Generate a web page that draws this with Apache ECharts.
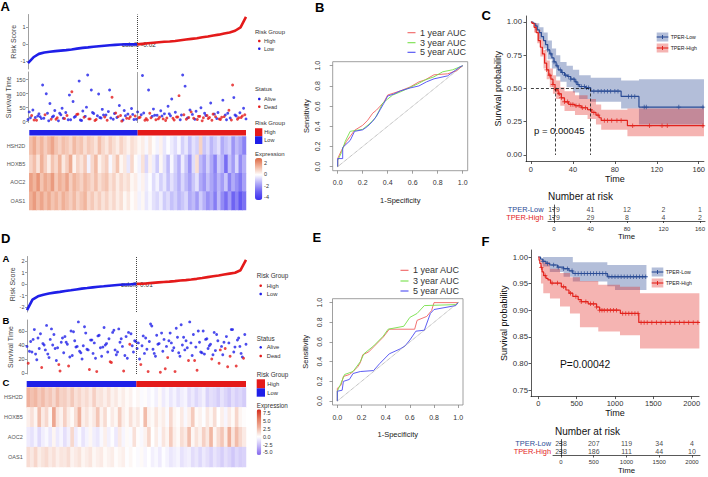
<!DOCTYPE html>
<html>
<head>
<meta charset="utf-8">
<title>Risk model</title>
<script src="https://cdn.jsdelivr.net/npm/echarts@6.0.0/dist/echarts.min.js"></script>
<style>
  html, body { margin: 0; padding: 0; background: #fff; }
  #chart { width: 708px; height: 477px; }
</style>
</head>
<body>
<div id="chart"></div>
<script>
// ---------------- data ----------------
// risk scores along the patient ranking (41 samples, 0..100 %)
var riskA = [-1.12, -0.78, -0.58, -0.5, -0.46, -0.42, -0.39, -0.36, -0.32, -0.27, -0.23, -0.2, -0.16, -0.13, -0.1, -0.07, -0.05, -0.03, -0.02, -0.02, -0.02, 0.01, 0.04, 0.07, 0.1, 0.13, 0.15, 0.18, 0.22, 0.26, 0.3, 0.34, 0.4, 0.44, 0.5, 0.55, 0.62, 0.68, 0.78, 0.98, 1.6];
var riskD = [-2.26, -1.35, -1.07, -0.93, -0.83, -0.75, -0.68, -0.6, -0.54, -0.47, -0.4, -0.35, -0.29, -0.24, -0.2, -0.15, -0.11, -0.07, -0.04, -0.02, 0.01, 0.03, 0.06, 0.1, 0.14, 0.18, 0.21, 0.25, 0.3, 0.34, 0.39, 0.45, 0.52, 0.6, 0.67, 0.74, 0.82, 0.9, 0.98, 1.2, 2.1];
var cutoffA = -0.02, cutoffD = 0.01;
var groupsA = [179, 179], groupsD = [238, 238];

// survival time of patients in ranking order, status 1 = dead
var survA = [8, 35, 14, 22, 42, 6, 15, 5, 20, 28, 18, 11, 131, 12, 25, 100, 30, 3, 65, 9, 17, 20, 40, 9, 14, 3, 30, 25, 48, 12,
  11, 33, 22, 7, 95, 7, 107, 72, 16, 19, 26, 27, 145, 6, 4, 38, 16, 19, 52, 167, 10, 10, 113, 33, 29, 4, 8, 21, 99, 15,
  13, 44, 24, 17, 24, 5, 36, 113, 13, 87, 9, 29, 31, 15, 18, 58, 22, 2, 6, 40, 21, 12, 27, 11, 18, 47, 26, 8, 20, 9,
  35, 14, 16, 25, 165, 31, 5, 11, 6, 113, 30, 14, 19, 45, 23, 7, 23, 10, 16, 39, 20, 10, 28, 4, 13, 55, 28, 21, 81, 12,
  6, 34, 17, 17, 93, 7, 24, 167, 25, 127, 9, 13, 15, 42, 35, 26, 12, 9, 37, 8, 19, 19, 50, 3, 14, 30, 22, 22, 11, 15,
  67, 5, 27, 27, 18, 11, 33, 10, 8, 16, 77, 18, 24, 7, 30, 41, 13, 6, 131, 86, 24, 20, 9, 14, 32, 15, 20, 48, 25, 10];
var deadA = [0, 0, 0, 1, 0, 1, 0, 1, 0, 0, 0, 0, 0, 0, 1, 0, 0, 0, 0, 1, 0, 0, 0, 1, 1, 0, 0, 0, 0, 0,
  1, 0, 1, 0, 0, 0, 1, 0, 0, 0, 1, 1, 0, 0, 0, 0, 1, 0, 0, 0, 1, 1, 0, 0, 0, 1, 1, 0, 0, 0,
  0, 0, 0, 1, 0, 1, 0, 0, 0, 1, 0, 0, 1, 0, 1, 0, 1, 1, 0, 0, 0, 1, 0, 1, 1, 0, 0, 0, 1, 0,
  0, 1, 1, 0, 0, 0, 1, 1, 1, 0, 1, 1, 0, 0, 0, 1, 0, 1, 1, 0, 0, 1, 0, 1, 1, 0, 0, 0, 0, 1,
  1, 0, 1, 1, 1, 0, 0, 0, 1, 0, 1, 0, 1, 0, 1, 0, 1, 0, 0, 1, 1, 1, 0, 1, 1, 0, 0, 1, 1, 1,
  0, 1, 1, 0, 1, 0, 0, 1, 1, 1, 0, 1, 0, 0, 0, 1, 0, 1, 1, 0, 0, 0, 1, 1, 0, 1, 1, 0, 1, 0];
var survD = [38, 14, 31, 45, 30, 48, 62, 27, 19, 50, 35, 56, 8, 42, 40, 33, 68, 27, 22, 48, 63, 40, 55, 35, 18, 36, 12, 3, 44, 50,
  29, 52, 44, 41, 10, 23, 60, 25, 59, 46, 37, 38, 73, 31, 29, 20, 39, 66, 57, 34, 33, 5, 47, 47, 28, 43, 21, 2, 53, 54,
  36, 24, 37, 65, 40, 42, 30, 49, 16, 15, 58, 61, 33, 26, 30, 63, 44, 49, 38, 3, 25, 52, 21, 58, 41, 56, 39, 30, 46, 45,
  35, 43, 20, 12, 39, 53, 28, 50, 34, 2, 45, 70, 67, 34, 28, 24, 54, 41, 42, 1, 57, 31, 48, 6, 38, 22, 46, 57, 43, 32,
  36, 2, 64, 51, 29, 24, 69, 40, 51, 33, 46, 36, 18, 73, 43, 25, 55, 18, 37, 4, 60, 44, 30, 29, 60, 27, 48, 49, 35, 39,
  41, 20, 26, 58, 32, 55, 46, 14, 33, 38, 26, 44, 35, 52, 9, 43, 24, 62, 62, 30, 37, 10, 47, 50, 38, 28, 23, 21, 55, 41];
var deadD = [0, 1, 0, 0, 0, 0, 0, 0, 0, 0, 0, 0, 1, 0, 0, 0, 0, 0, 0, 0, 0, 0, 0, 0, 0, 0, 1, 1, 0, 0,
  0, 0, 0, 0, 1, 0, 0, 0, 0, 0, 0, 0, 0, 0, 0, 0, 0, 0, 0, 0, 0, 1, 0, 0, 0, 0, 0, 1, 0, 0,
  0, 0, 0, 0, 0, 0, 0, 0, 1, 1, 0, 0, 0, 0, 0, 0, 0, 0, 0, 1, 0, 0, 0, 0, 1, 0, 0, 0, 0, 0,
  0, 0, 0, 1, 0, 0, 0, 0, 0, 1, 0, 0, 0, 0, 0, 0, 0, 0, 0, 1, 0, 0, 0, 1, 0, 1, 0, 0, 0, 0,
  0, 1, 0, 0, 0, 0, 0, 0, 0, 0, 0, 0, 1, 0, 0, 0, 0, 1, 0, 1, 0, 0, 0, 0, 0, 0, 0, 0, 0, 0,
  0, 1, 0, 0, 0, 0, 0, 1, 1, 0, 0, 0, 1, 0, 1, 0, 1, 0, 0, 0, 0, 1, 0, 0, 0, 0, 0, 1, 0, 0];

// expression heatmaps, 60 column bins per gene (HSH2D, HOXB5, AOC2, OAS1)
var heatA = [
  [1.2, 1.6, 1.0, 1.4, 0.9, 1.3, 1.7, 1.1, 0.8, 1.2, 1.0, 0.7, 1.3, 0.9, 1.1, 0.6, 1.0, 0.8, 0.5, 1.2,
   0.7, 0.4, 0.9, 0.6, 0.3, 0.8, 0.5, 0.2, 0.6, 0.4, 0.1, 0.3, -0.2, 0.4, 0.0, -0.3, 0.2, -0.5, -0.1, -0.4,
   -0.7, -0.2, -0.9, -0.5, -1.2, -0.6, -0.9, 0.8, -1.1, -0.7, -1.4, -1.0, -0.6, -1.6, -1.2, -0.9, -2.0, -1.3, -1.7, -2.4],
  [0.8, 1.2, 0.5, 1.5, 0.9, 0.3, 1.1, 0.7, 1.4, 0.4, 0.9, 1.6, 0.2, 0.8, 0.5, 1.0, -0.3, 0.7, 1.3, 0.2,
   0.6, 0.9, -0.2, 0.5, 1.1, 0.1, 0.4, -0.5, 0.7, 0.0, -0.3, 0.5, -0.8, 0.2, -0.4, -1.0, 0.1, -0.6, -1.3, -0.2,
   -0.9, -1.5, -0.4, -1.1, -2.0, -0.7, 0.6, -1.3, -1.8, -0.9, -1.6, -2.4, -1.0, -1.4, -2.8, -1.2, -1.9, -0.8, -2.2, -1.5],
  [1.8, 1.4, 2.0, 1.1, 1.6, 1.3, 1.9, 1.0, 1.5, 1.2, 1.7, 0.9, 1.4, 1.1, 0.8, 1.3, 1.0, 0.7, 1.2, 0.6,
   0.9, 1.1, 0.5, 0.8, 0.3, 0.7, 0.4, 0.6, 0.1, 0.3, -0.2, 0.2, -0.4, -0.1, -0.7, -0.3, -0.9, -0.5, -1.2, -0.6,
   -1.0, -1.5, -0.8, -1.3, -1.8, -1.1, -0.6, -1.6, -2.0, -1.2, -1.7, -2.2, -1.4, -1.9, -1.1, -2.4, -1.6, -2.1, -2.6, -1.8],
  [1.5, 1.9, 1.3, 1.7, 1.2, 1.6, 1.1, 1.4, 1.0, 1.5, 1.2, 0.9, 1.3, 0.8, 1.1, 1.4, 0.7, 1.0, 0.6, 0.9,
   0.5, 0.8, 0.4, 0.7, 0.3, 0.6, 0.1, 0.4, 0.0, 0.2, -0.3, 0.1, -0.5, -0.2, -0.6, -0.8, -0.4, -1.0, -0.7, -1.2,
   -0.9, -1.4, -1.1, -0.8, -1.6, -1.3, -1.9, -1.0, -1.5, -2.1, -1.7, -2.5, -1.3, -2.2, -2.8, -1.9, -3.0, -2.4, -3.3, -2.7]
];
var heatD = [
  [3.0, 2.4, 2.8, 2.0, 2.6, 1.8, 2.2, 1.5, 2.5, 1.7, 1.9, 1.3, 2.1, 1.2, 1.6, 1.0, 1.4, 0.8, 1.8, 0.9,
   1.1, 0.6, 1.2, 0.5, 0.9, 0.3, 0.7, 0.2, 0.5, 0.0, 0.3, -0.2, 0.1, -0.4, -0.1, -0.6, 0.2, -0.8, -0.3, -1.0,
   -0.5, -1.2, -0.7, -0.4, -1.4, -0.9, -1.6, -1.1, -0.6, -1.8, -1.3, -1.5, -2.0, -1.2, -1.7, -2.2, -1.4, -1.9, -1.6, -2.1],
  [0.6, 1.2, 0.4, 2.5, 0.8, 1.5, 0.3, 3.6, 1.0, 0.5, 1.8, 0.7, 0.2, 1.3, 3.0, 0.6, 1.1, 0.4, 0.9, 2.2,
   0.5, 1.4, 0.1, 0.8, 0.3, 1.9, 0.6, 0.2, 1.2, 0.4, 0.9, 0.1, 2.6, 0.5, 0.2, 1.0, 0.3, 0.7, -0.2, 1.5,
   0.4, 0.1, 0.8, -0.3, 0.6, 2.0, 0.2, 0.5, -0.1, 0.9, 0.3, 1.3, 0.0, 0.6, -0.4, 0.8, 0.2, 1.6, 0.4, 0.1],
  [-0.8, -1.2, -0.5, -1.5, -0.7, -0.3, -1.0, 0.4, -0.9, -0.4, -1.3, -0.6, 1.5, -0.8, -0.2, -1.1, -0.5, 0.3, -0.7, -1.0,
   -0.3, 0.6, -0.6, -0.1, -0.9, 0.8, -0.4, 0.2, -0.2, 1.2, 0.1, -0.3, 0.5, 1.6, 0.0, 0.7, -0.2, 1.0, 0.4, 2.0,
   0.6, 0.2, 1.3, 0.8, 2.5, 0.3, 1.1, 0.5, 1.8, 0.9, 2.8, 0.4, 1.4, 2.2, 0.7, 3.2, 1.0, 2.6, 1.5, 0.8],
  [1.3, 0.9, 1.6, 0.7, 1.1, 1.4, 0.8, 1.2, 0.6, 1.0, 0.9, 1.3, 0.5, 0.8, 1.1, 0.4, 0.7, 1.0, 0.3, 0.6,
   0.8, 0.2, 0.5, 0.7, 0.1, 0.4, 0.6, -0.1, 0.3, 0.0, -0.2, 0.2, -0.4, 0.0, -0.6, -0.3, -0.8, -0.1, -0.5, -1.0,
   -0.7, -0.4, -1.2, -0.8, -0.6, -1.4, -1.0, -1.6, -0.9, -1.3, -1.8, -1.1, -1.5, -2.0, -1.3, -1.7, -2.3, -1.6, -2.0, -1.8]
];

// ROC curves [1-specificity, sensitivity]: 1, 3, 5 year
var rocB1 = [[0, 0], [0, 0.08], [0.03, 0.16], [0.07, 0.25], [0.1, 0.3], [0.135, 0.36], [0.2, 0.41], [0.24, 0.46], [0.28, 0.53], [0.31, 0.56], [0.34, 0.6], [0.37, 0.64], [0.4, 0.71], [0.45, 0.73], [0.5, 0.75], [0.58, 0.79], [0.65, 0.84], [0.7, 0.86], [0.77, 0.91], [0.88, 0.92], [0.95, 0.95], [1, 1]];
var rocB3 = [[0, 0], [0, 0.06], [0.03, 0.14], [0.06, 0.25], [0.1, 0.35], [0.15, 0.36], [0.2, 0.37], [0.25, 0.42], [0.3, 0.48], [0.33, 0.55], [0.36, 0.63], [0.4, 0.67], [0.44, 0.71], [0.5, 0.74], [0.57, 0.78], [0.64, 0.82], [0.7, 0.86], [0.77, 0.89], [0.84, 0.94], [0.92, 0.96], [1, 1]];
var rocB5 = [[0, 0], [0, 0.08], [0.04, 0.08], [0.04, 0.19], [0.1, 0.26], [0.135, 0.35], [0.2, 0.365], [0.24, 0.4], [0.28, 0.45], [0.31, 0.5], [0.34, 0.565], [0.37, 0.63], [0.4, 0.7], [0.45, 0.72], [0.5, 0.75], [0.58, 0.78], [0.65, 0.8], [0.71, 0.84], [0.77, 0.87], [0.88, 0.9], [0.98, 0.99], [1, 1]];
var rocE1 = [[0, 0], [0, 0.13], [0.03, 0.16], [0.05, 0.25], [0.1, 0.27], [0.13, 0.3], [0.17, 0.35], [0.19, 0.39], [0.21, 0.47], [0.26, 0.5], [0.3, 0.55], [0.34, 0.6], [0.38, 0.65], [0.43, 0.73], [0.64, 0.73], [0.66, 0.82], [0.74, 0.86], [0.78, 0.92], [0.8, 1], [1, 1]];
var rocE3 = [[0, 0], [0, 0.1], [0.03, 0.18], [0.06, 0.27], [0.13, 0.3], [0.19, 0.4], [0.22, 0.48], [0.3, 0.56], [0.38, 0.66], [0.42, 0.73], [0.55, 0.76], [0.6, 0.85], [0.66, 0.89], [0.72, 0.97], [0.98, 0.98], [1, 1]];
var rocE5 = [[0, 0], [0, 0.1], [0.04, 0.11], [0.05, 0.2], [0.1, 0.22], [0.13, 0.28], [0.19, 0.3], [0.3, 0.31], [0.35, 0.38], [0.43, 0.48], [0.52, 0.53], [0.56, 0.56], [0.6, 0.62], [0.65, 0.71], [0.72, 0.72], [0.77, 0.89], [0.8, 0.93], [0.98, 0.97], [1, 1]];

// Kaplan-Meier steps [time, survival], confidence bands [time, lower, upper], censor times
var kmLowC = [[0, 1], [2, 0.99], [4, 0.97], [6, 0.94], [8, 0.92], [10, 0.89], [12, 0.86], [14, 0.83], [16, 0.79], [18, 0.76], [20, 0.73], [22, 0.7], [24, 0.67], [26, 0.64], [29, 0.62], [32, 0.6], [35, 0.59], [38, 0.57], [42, 0.55], [44, 0.53], [46, 0.515], [52, 0.505], [57, 0.48], [86, 0.44], [103, 0.36], [165, 0.36]];
var kmHighC = [[0, 1], [1, 0.99], [3, 0.96], [5, 0.92], [7, 0.86], [9, 0.81], [11, 0.76], [13, 0.69], [15, 0.64], [17, 0.6], [19, 0.57], [21, 0.53], [23, 0.49], [26, 0.46], [29, 0.43], [32, 0.4], [36, 0.38], [42, 0.37], [48, 0.355], [54, 0.34], [58, 0.32], [62, 0.3], [65, 0.28], [67, 0.26], [92, 0.22], [165, 0.22]];
var bandLowC = [[0, 1, 1], [4, 0.94, 0.99], [8, 0.87, 0.96], [12, 0.8, 0.92], [16, 0.72, 0.86], [20, 0.65, 0.8], [24, 0.59, 0.75], [28, 0.55, 0.7], [34, 0.51, 0.67], [40, 0.47, 0.64], [46, 0.42, 0.6], [57, 0.4, 0.58], [86, 0.35, 0.56], [103, 0.23, 0.57], [165, 0.23, 0.57]];
var bandHighC = [[0, 1, 1], [3, 0.92, 0.99], [6, 0.84, 0.94], [9, 0.74, 0.87], [12, 0.65, 0.79], [15, 0.57, 0.71], [18, 0.51, 0.65], [21, 0.46, 0.6], [24, 0.42, 0.56], [28, 0.37, 0.51], [32, 0.33, 0.48], [42, 0.3, 0.45], [54, 0.27, 0.42], [62, 0.23, 0.38], [67, 0.19, 0.34], [92, 0.14, 0.35], [165, 0.14, 0.35]];
var cenLowC = [16, 19, 22, 25, 28, 30, 33, 36, 38, 41, 43, 45, 48, 51, 53, 55, 60, 64, 67, 70, 73, 76, 80, 83, 93, 96, 99, 108, 110, 141, 164];
var cenHighC = [15, 18, 21, 24, 27, 29, 32, 35, 38, 40, 43, 46, 49, 52, 57, 60, 64, 70, 73, 77, 82, 86, 97, 113, 125, 130, 164];
var riskTimesC = [0, 40, 80, 120, 160];
var riskLowC = [179, 41, 12, 2, 1];
var riskHighC = [179, 29, 8, 4, 2];
var pValueC = 'p = 0.00045';

var kmLowF = [[0, 1], [30, 0.996], [60, 0.992], [100, 0.988], [150, 0.985], [250, 0.981], [330, 0.978], [400, 0.974], [450, 0.969], [900, 0.963], [1410, 0.963]];
var kmHighF = [[0, 1], [10, 0.994], [20, 0.988], [35, 0.98], [50, 0.972], [70, 0.965], [100, 0.96], [126, 0.957], [160, 0.951], [300, 0.944], [360, 0.938], [400, 0.932], [450, 0.926], [520, 0.92], [560, 0.916], [650, 0.912], [760, 0.906], [800, 0.9], [1070, 0.894], [1310, 0.877], [2100, 0.877]];
var bandLowF = [[0, 1, 1], [60, 0.982, 1.0], [150, 0.972, 1.0], [330, 0.963, 1.0], [450, 0.954, 0.99], [900, 0.945, 0.985], [1000, 0.938, 0.985], [1410, 0.938, 0.985]];
var bandHighF = [[0, 1, 1], [35, 0.95, 0.995], [65, 0.932, 0.99], [152, 0.922, 0.978], [283, 0.907, 0.97], [413, 0.894, 0.962], [543, 0.868, 0.955], [782, 0.86, 0.948], [1065, 0.853, 0.944], [1326, 0.828, 0.932], [2100, 0.828, 0.932]];
var cenLowF = [60, 120, 200, 260, 330, 380, 440, 480, 520, 560, 600, 640, 680, 720, 760, 800, 840, 880, 920, 960, 1000, 1040, 1080, 1120, 1160, 1200, 1240, 1280, 1320, 1360, 1400];
var cenHighF = [40, 90, 180, 250, 330, 420, 490, 560, 620, 680, 720, 760, 800, 830, 860, 900, 940, 980, 1020, 1100, 1140, 1180, 1220, 1260, 1300, 1340, 1380, 1420, 1480, 1540, 1600, 1660, 1720, 1780, 1840, 1900, 1960, 2020, 2080];
var riskTimesF = [0, 500, 1000, 1500, 2000];
var riskLowF = [238, 207, 119, 34, 4];
var riskHighF = [238, 186, 111, 44, 10];
var pValueF = 'P=0.00042';

// ---------------- styles ----------------
var FONT = '"Liberation Sans", Arial, Helvetica, sans-serif';
var BLUE = '#1f1fe8', RED = '#e41a1a';
var KM_BLUE = '#2b4c95', KM_RED = '#e2231d';
var FILL_BLUE = 'rgba(43,76,149,0.36)', FILL_RED = 'rgba(226,35,29,0.34)';
var ROC_COL = ['#f06262', '#76e04a', '#4b4bf2'];
var ROC_NAMES = ['1 year AUC', '3 year AUC', '5 year AUC'];
var GENES = ['HSH2D', 'HOXB5', 'AOC2', 'OAS1'];
var CROSS = 'path://M4,0H6V4H10V6H6V10H4V6H0V4H4Z';

var grid = [], xAxis = [], yAxis = [], series = [], visualMap = [], graphic = [];

function addGrid(box, xa, ya, extra) {
  var i = grid.length;
  var g = {left: box[0], top: box[1], width: box[2], height: box[3]};
  for (var k in extra) g[k] = extra[k];
  grid.push(g);
  xa.gridIndex = i; ya.gridIndex = i;
  xAxis.push(xa); yAxis.push(ya);
  return i;
}
function label(x, y, text, size, extra) {
  var st = {text: text, fontSize: size, fontFamily: FONT, fill: '#333', align: 'left', verticalAlign: 'middle'};
  for (var k in extra) st[k] = extra[k];
  return {type: 'text', x: x, y: y, silent: true, style: st};
}
function dot(x, y, c) {
  return {type: 'circle', shape: {cx: x, cy: y, r: 1.3}, style: {fill: c}, silent: true};
}
function box(x, y, w, h, c) {
  return {type: 'rect', shape: {x: x, y: y, width: w, height: h}, style: {fill: c}, silent: true};
}
function seg(x1, y1, x2, y2, c, w) {
  return {type: 'line', shape: {x1: x1, y1: y1, x2: x2, y2: y2}, style: {stroke: c, lineWidth: w}, silent: true};
}
function hidden(min, max) {
  return {type: 'value', min: min, max: max, show: false};
}
function pctData(arr, from, to) {
  var out = [];
  for (var i = 0; i < arr.length; i++) {
    var p = i / (arr.length - 1) * 100;
    if (p >= from && p <= to) out.push([p, arr[i]]);
  }
  return out;
}
function survAt(steps, t) {
  var s = steps[0][1];
  steps.forEach(function (d) { if (d[0] <= t) s = d[1]; });
  return s;
}
function median(steps) {
  for (var i = 0; i < steps.length; i++) if (steps[i][1] <= 0.5) return steps[i][0];
  return null;
}
function plain(v) { return String(v); }
function valueAxis(min, max, ticks, o) {
  var line = {color: o.lineColor, width: 0.7};
  return {
    type: 'value', min: min, max: max,
    axisLine: {show: o.axisLine !== false, onZero: false, lineStyle: line},
    axisTick: {show: true, length: o.tickLen || 2, customValues: ticks, lineStyle: line},
    axisLabel: {customValues: ticks, fontSize: o.fontSize, color: o.labelColor || '#444', margin: o.margin,
      rotate: o.rotate || 0, fontFamily: FONT, formatter: o.formatter || plain},
    splitLine: {show: false},
    name: o.name, nameLocation: 'middle', nameGap: o.nameGap,
    nameTextStyle: {fontSize: o.nameSize, color: o.nameColor || '#222', fontFamily: FONT}
  };
}

// ---------------- risk score / survival / heatmap panels (A and D) ----------------
function riskPanel(p) {
  var cut = p.groups[0] / (p.groups[0] + p.groups[1]) * 100;
  var cutLine = {silent: true, symbol: 'none', label: {show: false},
    lineStyle: {type: 'dotted', color: '#444', width: 1}, data: [{xAxis: cut}]};

  var g = addGrid(p.riskBox, hidden(0, 100), valueAxis(p.riskRange[0], p.riskRange[1], p.riskTicks,
    {lineColor: '#777', fontSize: 5.5, margin: 2.5, name: 'Risk Score', nameGap: 10, nameSize: 7, nameColor: '#444'}));
  series.push({type: 'line', name: 'Low', xAxisIndex: g, yAxisIndex: g, data: pctData(p.risk, 0, cut),
    showSymbol: false, lineStyle: {color: BLUE, width: 2.6}, itemStyle: {color: BLUE}, markLine: cutLine});
  series.push({type: 'line', name: 'High', xAxisIndex: g, yAxisIndex: g, data: pctData(p.risk, cut, 100),
    showSymbol: false, lineStyle: {color: RED, width: 2.6}, itemStyle: {color: RED}});

  g = addGrid(p.survBox, hidden(0, 100), valueAxis(p.survRange[0], p.survRange[1], p.survTicks,
    {lineColor: '#777', fontSize: 5.5, margin: 2.5, name: 'Survival Time', nameGap: 10, nameSize: 7, nameColor: '#444'}));
  var alive = [], dead = [];
  p.surv.forEach(function (v, i) {
    var pt = [i / (p.surv.length - 1) * 100, v];
    (p.dead[i] ? dead : alive).push(pt);
  });
  series.push({type: 'scatter', name: 'Alive', xAxisIndex: g, yAxisIndex: g, data: alive, symbolSize: 2.9,
    itemStyle: {color: BLUE}, markLine: cutLine});
  series.push({type: 'scatter', name: 'Dead', xAxisIndex: g, yAxisIndex: g, data: dead, symbolSize: 2.9,
    itemStyle: {color: RED}});

  g = addGrid(p.barBox, hidden(0, 100), hidden(0, 1));
  series.push({type: 'custom', xAxisIndex: g, yAxisIndex: g, silent: true,
    data: [[0, cut, 0], [cut, 100, 1]],
    renderItem: function (params, api) {
      var a = api.coord([api.value(0), 1]), b = api.coord([api.value(1), 0]);
      return {type: 'rect', shape: {x: a[0], y: a[1], width: b[0] - a[0], height: b[1] - a[1]},
        style: {fill: api.value(2) ? RED : BLUE}};
    }});

  var cols = p.heat[0].map(function (v, i) { return String(i); });
  g = addGrid(p.heatBox, {type: 'category', data: cols, show: false},
    {type: 'category', data: GENES, inverse: true, axisLine: {show: false}, axisTick: {show: false},
      axisLabel: {fontSize: 5.5, color: '#555', margin: 4, fontFamily: FONT}});
  var cells = [];
  p.heat.forEach(function (row, r) { row.forEach(function (v, c) { cells.push([c, r, v]); }); });
  series.push({type: 'heatmap', xAxisIndex: g, yAxisIndex: g, data: cells, silent: true});
  var vm = p.vm;
  visualMap.push({type: 'continuous', seriesIndex: series.length - 1, min: vm.min, max: vm.max,
    inRange: {color: vm.colors}, left: vm.box[0], top: vm.box[1], itemWidth: vm.box[2], itemHeight: vm.box[3],
    padding: 0, calculable: false, hoverLink: false, orient: 'vertical'});
  vm.ticks.forEach(function (v) {
    var y = vm.box[1] + (vm.max - v) / (vm.max - vm.min) * vm.box[3];
    graphic.push(label(vm.box[0] + vm.box[2] + 1.8, y, v.toFixed(vm.digits), 5.5));
  });
  graphic.push(label(p.cutText[0], p.cutText[1], 'cutoff: ' + p.cutoff, 6.5, {fill: '#333'}));
}

riskPanel({
  risk: riskA, surv: survA, dead: deadA, groups: groupsA, heat: heatA, cutoff: cutoffA,
  riskBox: [28, 14.5, 218, 54.5], riskRange: [-1.47, 1.735], riskTicks: [-1, 0, 1],
  survBox: [28, 72, 218, 50.5], survRange: [-2.9, 177.5], survTicks: [0, 50, 100, 150],
  barBox: [29.3, 130, 216.7, 5.5], heatBox: [29.3, 136.5, 216.7, 73.5], cutText: [121.7, 44.2],
  vm: {min: -4.5, max: 2.9, digits: 0, ticks: [2, 0, -2, -4], box: [255, 158, 7.3, 42],
    colors: ['#3a2df0', '#6d62f2', '#b4aef8', '#ffffff', '#f1b49c', '#dc6742']}
});
riskPanel({
  risk: riskD, surv: survD, dead: deadD, groups: groupsD, heat: heatD, cutoff: cutoffD,
  riskBox: [27, 256.5, 219, 55.5], riskRange: [-2.43, 2.39], riskTicks: [-2, -1, 0, 1, 2],
  survBox: [27, 320, 219, 54], survRange: [-1.4, 75.7], survTicks: [0, 20, 40, 60],
  barBox: [26.7, 381, 219.3, 6], heatBox: [26.7, 387.5, 219.3, 79.5], cutText: [120.7, 284.2],
  vm: {min: -5.8, max: 8.7, digits: 1, ticks: [7.5, 5, 2.5, 0, -2.5, -5], box: [256.7, 409.3, 4.5, 45.7],
    colors: ['#8466ee', '#c4b8f7', '#ffffff', '#f0b4a0', '#e47a5e', '#d42a1c']}
});

// legends of the risk panels
graphic.push(
  label(255, 31.7, 'Risk Group', 6), dot(259.3, 41, RED), label(264, 41, 'High', 5.5),
  dot(259.3, 48.7, BLUE), label(264, 48.7, 'Low', 5.5),
  label(255, 89.3, 'Status', 6), dot(259.3, 99, BLUE), label(264, 99, 'Alive', 5.5),
  dot(259.3, 106.7, RED), label(264, 106.7, 'Dead', 5.5),
  label(255, 123.3, 'Risk Group', 6), box(255, 128.3, 7.3, 7.9, RED), label(264.3, 132.3, 'High', 5.5),
  box(255, 136.2, 7.3, 7.9, BLUE), label(264.3, 140.2, 'Low', 5.5),
  label(255, 154, 'Expression', 6),

  label(256.7, 275.7, 'Risk Group', 6.3), dot(260.7, 285.7, RED), label(266.7, 285.7, 'High', 5.8),
  dot(260.7, 294, BLUE), label(266.7, 294, 'Low', 5.8),
  label(256.7, 338.3, 'Status', 6.3), dot(260.7, 347.3, BLUE), label(266.7, 347.3, 'Alive', 5.8),
  dot(260.7, 356, RED), label(266.7, 356, 'Dead', 5.8),
  label(256.7, 374.3, 'Risk Group', 6.3), box(256.7, 379.3, 8.3, 9, RED), label(267.3, 384, 'High', 5.8),
  box(256.7, 388.3, 8.3, 8.4, BLUE), label(267.3, 392.6, 'Low', 5.8),
  label(256.7, 405.7, 'Expression', 6.3)
);

// ---------------- ROC panels (B and E) ----------------
function rocPanel(p) {
  var tk = [0, 0.2, 0.4, 0.6, 0.8, 1];
  var fmt = function (v) { return v.toFixed(1); };
  var g = addGrid(p.box,
    valueAxis(-0.04, 1.04, tk, {lineColor: '#777', axisLine: false, tickLen: 3, fontSize: 7, labelColor: '#333',
      margin: 8.5, formatter: fmt, name: '1-Specificity', nameGap: p.xNameGap, nameSize: 7.5}),
    valueAxis(-0.04, 1.04, tk, {lineColor: '#777', axisLine: false, tickLen: 3, fontSize: 7, labelColor: '#333',
      margin: p.yMargin, rotate: 90, formatter: fmt, name: 'Sensitivity', nameGap: p.yNameGap, nameSize: 7.5}),
    {show: true, borderColor: '#888', borderWidth: 0.8, backgroundColor: 'transparent'});
  p.curves.forEach(function (c, i) {
    series.push({type: 'line', name: ROC_NAMES[i], xAxisIndex: g, yAxisIndex: g, data: c, showSymbol: false,
      lineStyle: {color: ROC_COL[i], width: 0.9}, itemStyle: {color: ROC_COL[i]}, z: 3,
      markLine: i ? undefined : {silent: true, symbol: 'none', label: {show: false},
        lineStyle: {type: 'dotted', color: '#888', width: 0.8},
        data: [[{coord: [0, 0]}, {coord: [1, 1]}]]}});
  });
  p.keyY.forEach(function (y, i) {
    graphic.push(seg(p.keyX, y, p.keyX + 8, y, ROC_COL[i], 1.1), label(p.keyX + 12.5, y, ROC_NAMES[i], 9));
  });
}
rocPanel({box: [332.7, 61.7, 135, 109], curves: [rocB1, rocB3, rocB5], xNameGap: 26, yMargin: 11.5, yNameGap: 22,
  keyX: 407.5, keyY: [32.7, 42.7, 52.3]});
rocPanel({box: [332.5, 298.7, 130.5, 106.3], curves: [rocE1, rocE3, rocE5], xNameGap: 25, yMargin: 10, yNameGap: 23,
  keyX: 400.5, keyY: [270.3, 281, 291]});

// ---------------- Kaplan-Meier panels (C and F) ----------------
function bandSeries(g, band, fill) {
  return {type: 'custom', xAxisIndex: g, yAxisIndex: g, silent: true, z: 1, data: [band[0]],
    renderItem: function (params, api) {
      var up = [], lo = [];
      for (var i = 0; i < band.length - 1; i++) {
        up.push(api.coord([band[i][0], band[i][2]]), api.coord([band[i + 1][0], band[i][2]]));
        lo.push(api.coord([band[i][0], band[i][1]]), api.coord([band[i + 1][0], band[i][1]]));
      }
      return {type: 'polygon', shape: {points: up.concat(lo.reverse())}, style: {fill: fill}};
    }};
}
function kmPanel(p) {
  var g = addGrid(p.box,
    valueAxis(p.xRange[0], p.xRange[1], p.ticks, {lineColor: '#111', tickLen: 2.5, fontSize: 7.5, labelColor: '#333',
      margin: p.xMargin, name: 'Time', nameGap: p.xNameGap, nameSize: p.nameSize, nameColor: '#111'}),
    valueAxis(p.yRange[0], p.yRange[1], p.yTicks, {lineColor: '#111', tickLen: 2.5, fontSize: 7.8, labelColor: '#333',
      margin: p.yMargin, formatter: function (v) { return v.toFixed(2); },
      name: 'Survival probability', nameGap: p.yNameGap, nameSize: p.nameSize, nameColor: '#111'}));
  series.push(bandSeries(g, p.bandLow, FILL_BLUE), bandSeries(g, p.bandHigh, FILL_RED));
  var lines = [[p.kmLow, KM_BLUE, 'TPER-Low', p.cenLow], [p.kmHigh, KM_RED, 'TPER-High', p.cenHigh]];
  lines.forEach(function (l) {
    series.push({type: 'line', name: l[2], xAxisIndex: g, yAxisIndex: g, step: 'end', data: l[0], showSymbol: false,
      lineStyle: {color: l[1], width: 1.2}, itemStyle: {color: l[1]}, z: 3});
    series.push({type: 'scatter', xAxisIndex: g, yAxisIndex: g, symbol: CROSS, symbolSize: 4.5, silent: true,
      itemStyle: {color: l[1]}, z: 4,
      data: l[3].map(function (t) { return [t, survAt(l[0], t)]; })});
  });
  if (p.medians) {
    var mL = median(p.kmLow), mH = median(p.kmHigh);
    series[series.length - 2].markLine = {silent: true, symbol: 'none', label: {show: false},
      lineStyle: {type: [3, 2], color: '#111', width: 0.8},
      data: [[{coord: [0, 0.5]}, {coord: [Math.max(mL, mH), 0.5]}],
        [{coord: [mL, 0.5]}, {coord: [mL, 0]}], [{coord: [mH, 0.5]}, {coord: [mH, 0]}]]};
  }

  // number-at-risk table
  var t = addGrid(p.tabBox,
    valueAxis(p.tabRange[0], p.tabRange[1], p.ticks, {lineColor: '#111', tickLen: 2, fontSize: 6, labelColor: '#333',
      margin: p.tabMargin, name: 'Time', nameGap: 11, nameSize: 7.8, nameColor: '#111'}),
    {type: 'category', data: ['TPER-High', 'TPER-Low'],
      axisLine: {show: true, lineStyle: {color: '#111', width: 0.7}},
      axisTick: {show: true, alignWithLabel: true, length: 2, lineStyle: {color: '#111', width: 0.7}},
      axisLabel: {interval: 0, fontSize: 7.4, lineHeight: 7.4, margin: p.tabLabelMargin, fontFamily: FONT,
        color: function (v) { return v === 'TPER-Low' ? KM_BLUE : KM_RED; }}});
  [['TPER-Low', p.nLow], ['TPER-High', p.nHigh]].forEach(function (row) {
    series.push({type: 'scatter', xAxisIndex: t, yAxisIndex: t, symbolSize: 1, silent: true,
      itemStyle: {color: 'rgba(0,0,0,0)'},
      label: {show: true, position: 'inside', fontSize: 7, lineHeight: 7, color: '#111', fontFamily: FONT,
        formatter: function (d) { return d.value[2]; }},
      data: p.times.map(function (tm, i) { return [tm, row[0], row[1][i]]; })});
  });

  graphic.push(label(p.tabTitle[0], p.tabTitle[1], 'Number at risk', 10, {fill: '#111'}));
  graphic.push(label(p.pText[0], p.pText[1], p.pValue, p.pSize, {fill: '#111'}));
  [[KM_BLUE, FILL_BLUE, 'TPER-Low'], [KM_RED, FILL_RED, 'TPER-High']].forEach(function (k, i) {
    var x = p.key[0], y = p.key[1] + i * p.key[2];
    graphic.push(box(x, y - 4.5, 11.6, 9, k[1]), seg(x, y, x + 11.6, y, k[0], 1.1),
      seg(x + 5.8, y - 2, x + 5.8, y + 2, k[0], 1), label(x + 14, y, k[2], 5.2, {fill: '#222'}));
  });
}
kmPanel({
  box: [526, 16, 179, 145.5], xRange: [-4.7, 164.9], yRange: [-0.049, 1.045],
  ticks: [0, 40, 80, 120, 160], yTicks: [0, 0.25, 0.5, 0.75, 1],
  xMargin: 4, yMargin: 4, xNameGap: 12, yNameGap: 23, nameSize: 9,
  kmLow: kmLowC, kmHigh: kmHighC, bandLow: bandLowC, bandHigh: bandHighC, cenLow: cenLowC, cenHigh: cenHighC,
  medians: true, pValue: pValueC, pText: [534, 130], pSize: 9.5, key: [656.7, 37, 11],
  tabBox: [548, 205, 157, 16], tabRange: [-6.6, 165.5], tabMargin: 4.5, tabLabelMargin: 4.5,
  times: riskTimesC, nLow: riskLowC, nHigh: riskHighC, tabTitle: [548, 196]
});
kmPanel({
  box: [531, 250, 168, 146.6], xRange: [-95, 2095], yRange: [0.7376, 1.0132],
  ticks: [0, 500, 1000, 1500, 2000], yTicks: [0.75, 0.8, 0.85, 0.9, 0.95, 1],
  xMargin: 3, yMargin: 3, xNameGap: 12, yNameGap: 19.5, nameSize: 9,
  kmLow: kmLowF, kmHigh: kmHighF, bandLow: bandLowF, bandHigh: bandHighF, cenLow: cenLowF, cenHigh: cenHighF,
  medians: false, pValue: pValueF, pText: [560, 364], pSize: 10.3, key: [651.7, 272, 11],
  tabBox: [553, 439.5, 147, 16], tabRange: [-122, 2122], tabMargin: 3.5, tabLabelMargin: 2,
  times: riskTimesF, nLow: riskLowF, nHigh: riskHighF, tabTitle: [555, 431]
});

// panel letters
graphic.push(
  label(0.5, 6.7, 'A', 13, {fontWeight: 'bold', fill: '#000'}),
  label(315, 7.5, 'B', 13, {fontWeight: 'bold', fill: '#000'}),
  label(481.5, 15, 'C', 13, {fontWeight: 'bold', fill: '#000'}),
  label(1, 238, 'D', 13, {fontWeight: 'bold', fill: '#000'}),
  label(312.5, 237.5, 'E', 13, {fontWeight: 'bold', fill: '#000'}),
  label(481.5, 241.5, 'F', 13, {fontWeight: 'bold', fill: '#000'}),
  label(2.5, 258.5, 'A', 9.5, {fontWeight: 'bold', fill: '#000'}),
  label(2.5, 320, 'B', 9.5, {fontWeight: 'bold', fill: '#000'}),
  label(2.5, 382.5, 'C', 9.5, {fontWeight: 'bold', fill: '#000'})
);

var chart = echarts.init(document.getElementById('chart'), null, {renderer: 'svg'});
chart.setOption({
  animation: false,
  textStyle: {fontFamily: FONT},
  grid: grid,
  xAxis: xAxis,
  yAxis: yAxis,
  visualMap: visualMap,
  series: series,
  graphic: graphic
});
</script>
</body>
</html>
